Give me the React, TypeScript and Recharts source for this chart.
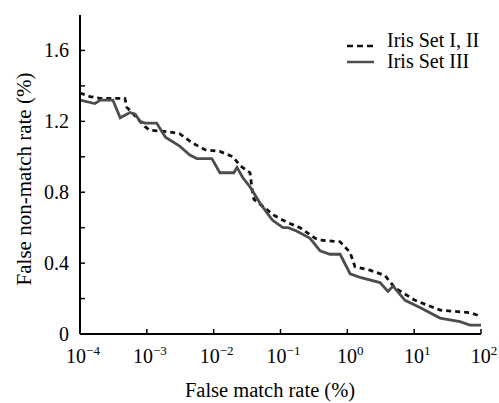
import React from 'react';
import { LineChart, Line, XAxis, YAxis, Legend } from 'recharts';

// False match rate (%) vs false non-match rate (%)
const setOneTwoFmr = [1e-4, 1.41e-4, 2.0e-4, 4.7e-4, 5.0e-4, 6.7e-4, 9.4e-4, 1.1e-3, 2.2e-3, 3.1e-3, 4.7e-3, 7.4e-3, 0.0124, 0.0195, 0.0248, 0.035, 0.0375, 0.04, 0.08, 0.125, 0.196, 0.33, 0.39, 0.78, 1.1, 1.3, 2.18, 3.66, 5.17, 10.3, 24.4, 68.5, 100];
const setOneTwoFnmr = [1.36, 1.34, 1.33, 1.33, 1.28, 1.23, 1.17, 1.15, 1.14, 1.13, 1.08, 1.04, 1.03, 1.0, 0.95, 0.91, 0.82, 0.76, 0.67, 0.63, 0.6, 0.54, 0.53, 0.52, 0.46, 0.38, 0.36, 0.33, 0.26, 0.19, 0.135, 0.12, 0.1];

const setThreeFmr = [1e-4, 1.67e-4, 2.0e-4, 3.1e-4, 4.0e-4, 5.6e-4, 6.7e-4, 7.9e-4, 9.4e-4, 1.4e-3, 1.9e-3, 3.1e-3, 4.4e-3, 5.6e-3, 9.4e-3, 0.0124, 0.02, 0.0223, 0.0275, 0.035, 0.049, 0.07, 0.077, 0.109, 0.13, 0.177, 0.277, 0.39, 0.55, 0.78, 1.1, 1.55, 3.08, 4.06, 4.83, 7.3, 12.2, 24.4, 48.5, 68.5, 100];
const setThreeFnmr = [1.32, 1.3, 1.32, 1.32, 1.22, 1.25, 1.24, 1.2, 1.19, 1.19, 1.11, 1.06, 1.01, 0.99, 0.99, 0.91, 0.91, 0.94, 0.88, 0.83, 0.74, 0.66, 0.64, 0.6, 0.6, 0.58, 0.54, 0.47, 0.45, 0.45, 0.34, 0.32, 0.29, 0.24, 0.27, 0.19, 0.15, 0.09, 0.07, 0.05, 0.05];

const xTicks = [1e-4, 1e-3, 1e-2, 1e-1, 1, 10, 100];
const xExponents = ['\u22124', '\u22123', '\u22122', '\u22121', '0', '1', '2'];
const yTicks = [0, 0.2, 0.4, 0.6, 0.8, 1.0, 1.2, 1.4, 1.6];
const yLabelled = ['0', '0.4', '0.8', '1.2', '1.6'];

const setOneTwo = setOneTwoFmr.map((fmr, i) => ({ fmr, fnmr: setOneTwoFnmr[i] }));
const setThree = setThreeFmr.map((fmr, i) => ({ fmr, fnmr: setThreeFnmr[i] }));

const serif = { fontFamily: "'Liberation Serif', 'Times New Roman', Times, 'DejaVu Serif', serif" };

const BottomTick = (props: any) => {
  const { x, y, payload } = props;
  const idx = xTicks.indexOf(payload.value);
  return (
    <g>
      <line x1={x} y1={y} x2={x} y2={y - 5} stroke="#000" strokeWidth={1.5} />
      <text x={x + 3} y={y + 29} textAnchor="middle" style={serif} fontSize={20} fill="#000">
        <tspan>10</tspan>
        <tspan dy={-8} fontSize={13}>{xExponents[idx]}</tspan>
      </text>
    </g>
  );
};

const TopTick = (props: any) => {
  const { x, y } = props;
  return <line x1={x} y1={y} x2={x} y2={y + 5} stroke="#000" strokeWidth={1.5} />;
};

const LeftTick = (props: any) => {
  const { x, y, payload } = props;
  const label = String(Math.round(payload.value * 10) / 10);
  return (
    <g>
      <line x1={x} y1={y} x2={x + 5} y2={y} stroke="#000" strokeWidth={1.5} />
      {yLabelled.includes(label) && (
        <text x={x - 11} y={y + 7} textAnchor="end" style={serif} fontSize={20} fill="#000">
          {label}
        </text>
      )}
    </g>
  );
};

const RightTick = (props: any) => {
  const { x, y } = props;
  return <line x1={x} y1={y} x2={x - 5} y2={y} stroke="#000" strokeWidth={1.5} />;
};

const LegendBox = (props: any) => {
  const { payload } = props;
  return (
    <svg width={140} height={45} style={{ overflow: 'visible', display: 'block' }}>
      {(payload || []).map((entry: any, i: number) => (
        <g key={entry.value}>
          <line
            x1={2}
            y1={i === 0 ? 16 : 32}
            x2={29}
            y2={i === 0 ? 16 : 32}
            stroke={entry.color}
            strokeWidth={2.5}
            strokeDasharray={i === 0 ? '6 4' : undefined}
          />
          <text x={42} y={i === 0 ? 17 : 37.5} style={serif} fontSize={20} fill="#000">
            {entry.value}
          </text>
        </g>
      ))}
    </svg>
  );
};

export default function App() {
  return (
    <div style={{ position: 'absolute', left: 0, top: 0, background: '#fff', ...serif }}>
      <LineChart width={499} height={403} margin={{ top: 15, right: 18, bottom: 0, left: 0 }}>
        <XAxis
          xAxisId="bottom"
          type="number"
          dataKey="fmr"
          scale="log"
          domain={[1e-4, 100]}
          ticks={xTicks}
          allowDataOverflow
          height={69}
          tickSize={0}
          tickMargin={0}
          tick={<BottomTick />}
          axisLine={{ stroke: '#000', strokeWidth: 2 }}
          label={{
            content: () => (
              <text x={270} y={397} textAnchor="middle" style={serif} fontSize={20.5} fill="#000">
                False match rate (%)
              </text>
            ),
          }}
        />
        <XAxis
          xAxisId="top"
          orientation="top"
          type="number"
          dataKey="fmr"
          scale="log"
          domain={[1e-4, 100]}
          ticks={xTicks}
          allowDataOverflow
          height={0}
          tickSize={0}
          tickMargin={0}
          tick={<TopTick />}
          axisLine={{ stroke: '#000', strokeWidth: 2 }}
        />
        <YAxis
          yAxisId="left"
          type="number"
          domain={[0, 1.8]}
          ticks={yTicks}
          allowDataOverflow
          width={80}
          tickSize={0}
          tickMargin={0}
          tick={<LeftTick />}
          axisLine={{ stroke: '#000', strokeWidth: 2 }}
          label={{
            content: () => (
              <text
                x={24}
                y={179}
                textAnchor="middle"
                dominantBaseline="central"
                transform="rotate(-90 24 179)"
                style={serif}
                fontSize={21}
                fill="#000"
              >
                False non-match rate (%)
              </text>
            ),
          }}
        />
        <YAxis
          yAxisId="right"
          orientation="right"
          type="number"
          domain={[0, 1.8]}
          ticks={yTicks}
          allowDataOverflow
          width={0}
          tickSize={0}
          tickMargin={0}
          tick={<RightTick />}
          axisLine={{ stroke: '#000', strokeWidth: 2 }}
        />
        <Legend
          content={<LegendBox />}
          verticalAlign="top"
          wrapperStyle={{ position: 'absolute', left: 345, top: 30, width: 0, height: 0, overflow: 'visible' }}
        />
        <Line
          xAxisId="bottom"
          yAxisId="left"
          data={setOneTwo}
          dataKey="fnmr"
          name="Iris Set I, II"
          type="linear"
          stroke="#111"
          strokeWidth={2.8}
          strokeDasharray="5 4"
          dot={false}
          isAnimationActive={false}
        />
        <Line
          xAxisId="bottom"
          yAxisId="left"
          data={setThree}
          dataKey="fnmr"
          name="Iris Set III"
          type="linear"
          stroke="#4d4d4d"
          strokeWidth={2.8}
          dot={false}
          isAnimationActive={false}
        />
      </LineChart>
    </div>
  );
}
